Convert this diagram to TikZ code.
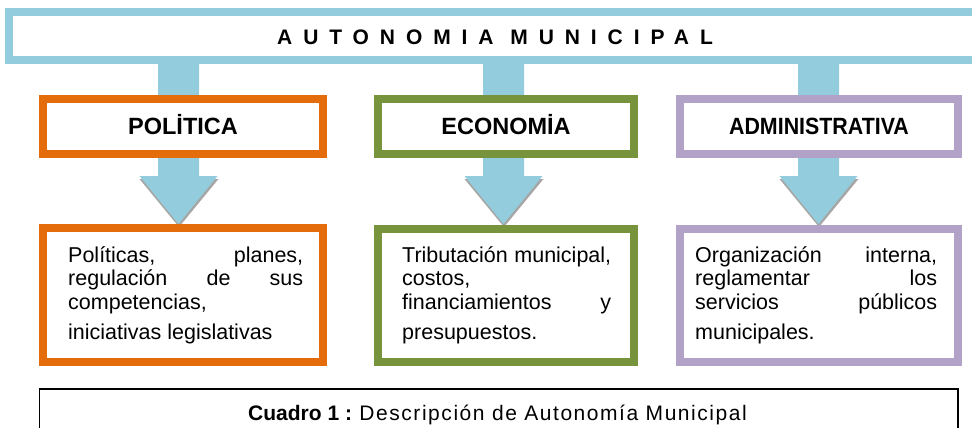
\documentclass[tikz,border=0pt]{standalone}
\usepackage{fontspec}
\setmainfont{Liberation Sans}
\newfontfamily\admfont[FakeStretch=0.91]{Liberation Sans}
\newfontfamily\capfont[LetterSpace=7.4]{Liberation Sans}
\usetikzlibrary{calc}
\definecolor{bannerblue}{HTML}{93CDDD}
\definecolor{orangeC}{HTML}{E46C0A}
\definecolor{greenC}{HTML}{77933C}
\definecolor{purpleC}{HTML}{B3A2C7}
\definecolor{shadowgray}{HTML}{A6A6A6}
\begin{document}
\begin{tikzpicture}[x=1pt,y=-1pt,
  framebox/.style={draw=#1, line width=8pt, fill=white, inner sep=0pt},
  headbox/.style={framebox=#1, minimum height=55pt, text height=16.8pt, text depth=0pt,
    font=\fontsize{23.5}{28}\selectfont\bfseries},
  bodybox/.style={framebox=#1, minimum height=133.5pt},
  body/.style={anchor=base west, inner sep=0pt, font=\fontsize{21.5}{25}\selectfont},
  titletext/.style={anchor=base west, inner sep=0pt,
    font=\fontsize{21}{26}\selectfont\bfseries\addfontfeatures{LetterSpace=52}},
  captext/.style={anchor=base west, inner sep=0pt, font=\fontsize{21}{25}\selectfont}
]
\useasboundingbox (0,0) rectangle (972,428);

% banner
\node[framebox=bannerblue, minimum width=976pt, minimum height=48pt] (banner) at (497,36) {};
\node[titletext] (title) at (277,45) {AUTONOMIA MUNICIPAL};

% column coordinates
\coordinate (ca) at (178.5,0);
\coordinate (cb) at (503.5,0);
\coordinate (cc) at (818.5,0);

% arrows (stem from banner, head towards lower boxes)
\foreach \c in {ca,cb,cc}{
  \fill[shadowgray] ($(\c |- banner.south)+(-39,115)$) -- ($(\c |- banner.south)+(40,115)$)
     -- ($(\c |- banner.south)+(0.5,163)$) -- cycle;
  \fill[bannerblue] ($(\c |- banner.south)+(-20.5,0)$) -- ($(\c |- banner.south)+(20.5,0)$)
     -- ($(\c |- banner.south)+(20.5,112)$) -- ($(\c |- banner.south)+(39,112)$)
     -- ($(\c |- banner.south)+(0,160)$) -- ($(\c |- banner.south)+(-39,112)$)
     -- ($(\c |- banner.south)+(-20.5,112)$) -- cycle;
}

% header boxes
\node[headbox=orangeC, minimum width=280pt] (pol) at (183,126.5) {POLİTICA};
\node[headbox=greenC, minimum width=256pt] (eco) at (506,126.5) {ECONOMİA};
\node[headbox=purpleC, minimum width=278pt, font=\fontsize{23.5}{28}\selectfont\admfont\bfseries] (adm) at (819,126.5) {ADMINISTRATIVA};

% lower boxes
\node[bodybox=orangeC, minimum width=280pt] (polb) at (183,295) {};
\node[bodybox=greenC, minimum width=256pt] (ecob) at (506,295.5) {};
\node[bodybox=purpleC, minimum width=278pt] (admb) at (819,295.5) {};

% texts
\node[body] (o1) at (68,262) {\makebox[235pt][s]{Políticas, planes,}};
\node[body] (o2) at (68,285.5) {\makebox[235pt][s]{regulación de sus}};
\node[body] (o3) at (68,309) {competencias,};
\node[body] (o4) at (68,339) {iniciativas legislativas};

\node[body] (g1) at (402,262) {\makebox[209pt][s]{Tributación municipal,}};
\node[body] (g2) at (402,285.5) {costos,};
\node[body] (g3) at (402,309) {\makebox[209pt][s]{financiamientos y}};
\node[body] (g4) at (402,339) {presupuestos.};

\node[body] (p1) at (695,262) {\makebox[242pt][s]{Organización interna,}};
\node[body] (p2) at (695,285.5) {\makebox[242pt][s]{reglamentar los}};
\node[body] (p3) at (695,309) {\makebox[242pt][s]{servicios públicos}};
\node[body] (p4) at (695,339) {municipales.};

% caption
\node[draw=black, line width=1.6pt, minimum width=918.5pt, minimum height=60pt, inner sep=0pt] (capbox) at (498.75,419) {};
\node[captext] (cap) at (248,420) {\textbf{Cuadro 1 :}{\capfont\ Descripción de Autonomía Municipal}};
\end{tikzpicture}
\end{document}
